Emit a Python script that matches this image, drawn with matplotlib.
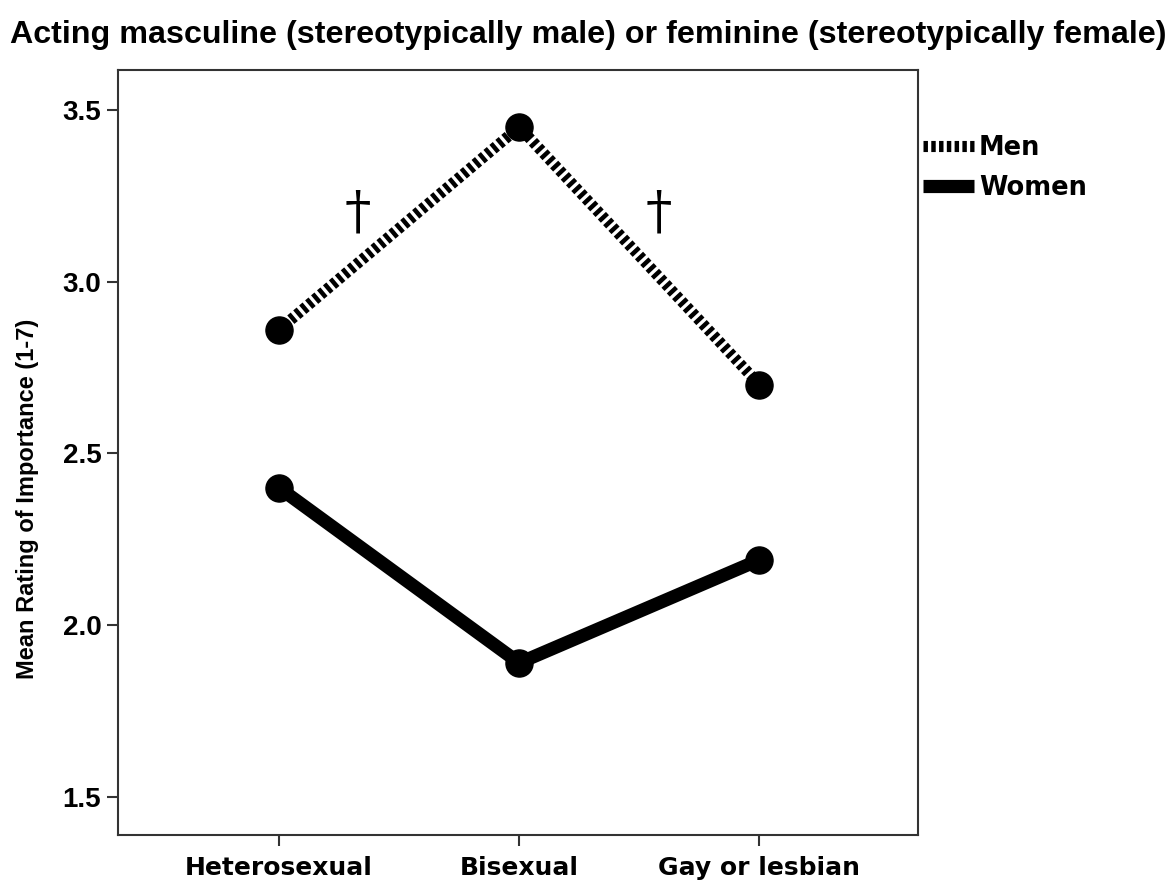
import matplotlib
matplotlib.use("Agg")
import matplotlib.pyplot as plt
from matplotlib.lines import Line2D

categories = ["Heterosexual", "Bisexual", "Gay or lesbian"]
men = [2.86, 3.45, 2.70]
women = [2.40, 1.89, 2.19]
yticks = [1.5, 2.0, 2.5, 3.0, 3.5]
dagger_x = [0.33, 1.58]
dagger_y = [3.20, 3.20]

fig = plt.figure(figsize=(11.76, 8.88), dpi=100)
ax = fig.add_axes([118/1176, 1-835/888, (918-118)/1176, (835-70)/888])

x = list(range(len(categories)))
men_dash = (0.4, 0.3)
ax.plot(x, women, color="black", lw=9.5, solid_capstyle="butt", zorder=3)
ax.plot(x, women, "o", color="black", ms=19.5, zorder=4)
ax.plot(x, men, color="black", lw=8, dashes=men_dash, dash_capstyle="butt", zorder=3)
ax.plot(x, men, "o", color="black", ms=19.5, zorder=4)

for dx, dy in zip(dagger_x, dagger_y):
    ax.text(dx, dy, "\u2020", fontsize=38, family="DejaVu Serif", ha="center", va="center")

ax.set_xlim(-0.67, 2.66)
ax.set_ylim(1.389, 3.616)
ax.set_xticks(x)
ax.set_xticklabels(categories, fontsize=18, fontweight="bold", family="DejaVu Sans")
ax.set_yticks(yticks)
ax.set_yticklabels([f"{v:.1f}" for v in yticks], fontsize=20, fontweight="bold", family="Liberation Sans")
ax.tick_params(axis="both", length=8, width=1.5, color="#333333")
ax.tick_params(axis="x", pad=7)
ax.tick_params(axis="y", pad=4)
for s in ax.spines.values():
    s.set_linewidth(1.5)
    s.set_color("#333333")

ax.set_ylabel("Mean Rating of Importance (1-7)", fontsize=17, fontweight="bold", family="Liberation Sans")
ax.yaxis.set_label_coords(-0.099, 0.44)
fig.text(0.5, 1-35/888, "Acting masculine (stereotypically male) or feminine (stereotypically female)",
         fontsize=23.2, fontweight="bold", family="Liberation Sans", ha="center", va="center")

handles = [Line2D([], [], color="black", lw=8, dashes=men_dash, dash_capstyle="butt"),
           Line2D([], [], color="black", lw=9.5, solid_capstyle="butt")]
fig.legend(handles, ["Men", "Women"], loc="upper left", bbox_to_anchor=(920/1176, 1-132/888),
           frameon=False, handlelength=2.0, handletextpad=0.2, borderaxespad=0, borderpad=0.1,
           labelspacing=0.55, prop={"family": "DejaVu Sans", "weight": "bold", "size": 18.5})

fig.savefig("out.png", dpi=100)
